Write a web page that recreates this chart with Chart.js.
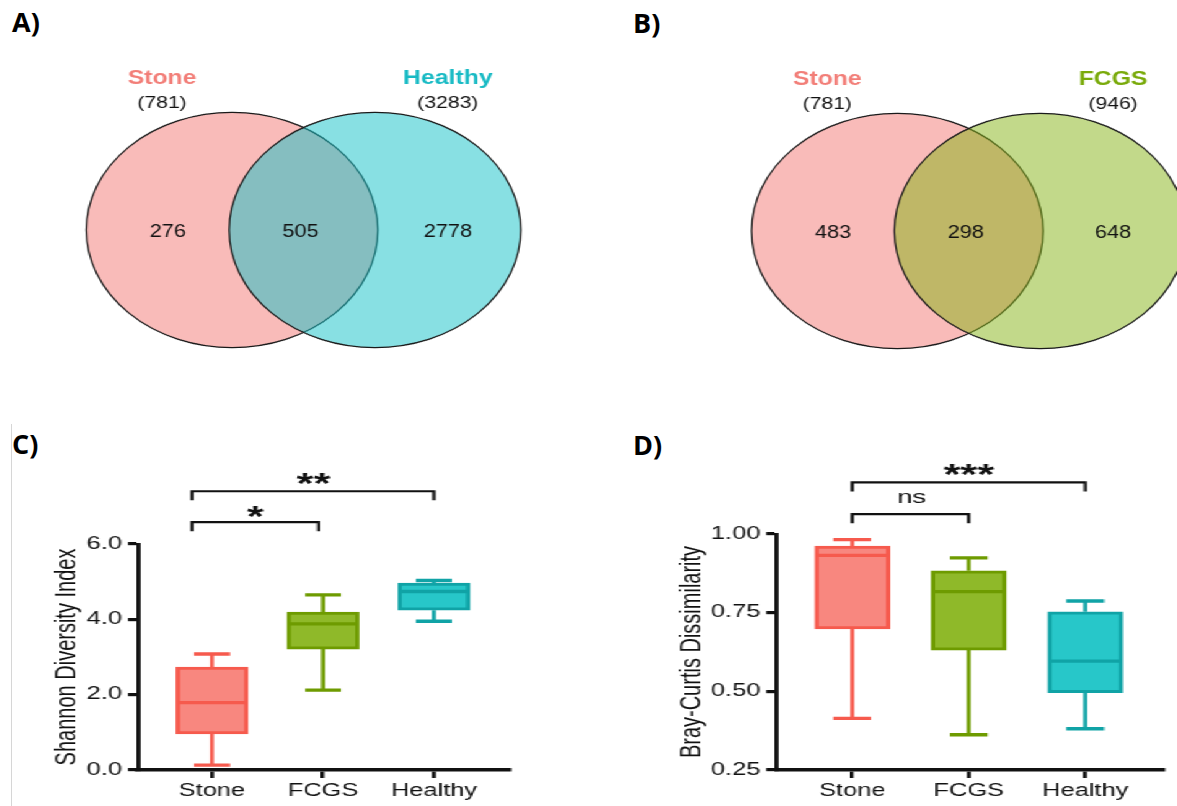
<!DOCTYPE html>
<html>
<head>
<meta charset="utf-8">
<script src="https://cdn.jsdelivr.net/npm/chart.js@4.4.1/dist/chart.umd.min.js"></script>
<style>
  html, body { margin: 0; padding: 0; background: #fff; }
  body { width: 1177px; height: 806px; position: relative; overflow: hidden; }
  .wrap { position: absolute; left: 0; top: 0; height: 806px; transform-origin: 0 0; }
  .wrap canvas { position: absolute; }
  .tag { position: absolute; font-family: "Open Sans", sans-serif; font-weight: 700; font-size: 27px; line-height: 1; color: #000; }
  .edge { position: absolute; left: 11px; top: 424px; width: 1px; height: 382px; background: #d6d6d6; }
</style>
</head>
<body>
<div class="edge"></div>
<div class="tag" style="left:12px;top:8px">A)</div>
<div class="tag" style="left:633px;top:9px">B)</div>
<div class="tag" style="left:12px;top:430px">C)</div>
<div class="tag" style="left:633px;top:431px">D)</div>

<!-- the original figure is stretched sideways, so each half is drawn narrow and widened -->
<div class="wrap" id="vennWrap">
  <canvas id="vennA"></canvas>
  <canvas id="vennB"></canvas>
</div>
<div class="wrap" id="boxWrap">
  <canvas id="shannon"></canvas>
  <canvas id="bray"></canvas>
</div>

<script>
// ---- data ----
const vennSetsA = ['Stone', 'Healthy'];
const vennTotalsA = [781, 3283];
const vennCountsA = [276, 505, 2778];   // only Stone, shared, only Healthy

const vennSetsB = ['Stone', 'FCGS'];
const vennTotalsB = [781, 946];
const vennCountsB = [483, 298, 648];    // only Stone, shared, only FCGS

const groups = ['Stone', 'FCGS', 'Healthy'];

const shannonMin = [0.13, 2.12, 3.95];
const shannonQ1 = [0.96, 3.21, 4.24];
const shannonMed = [1.79, 3.88, 4.74];
const shannonQ3 = [2.73, 4.19, 4.96];
const shannonMax = [3.08, 4.65, 5.03];
const shannonTicks = [0, 2, 4, 6];
const shannonSig = ['*', '**'];          // Stone vs FCGS, Stone vs Healthy

const brayMin = [0.414, 0.362, 0.381];
const brayQ1 = [0.698, 0.631, 0.496];
const brayMed = [0.932, 0.817, 0.596];
const brayQ3 = [0.962, 0.883, 0.753];
const brayMax = [0.982, 0.924, 0.787];
const brayTicks = [0.25, 0.5, 0.75, 1.0];
const braySig = ['ns', '***'];

// ---- styles ----
const S_VENN = 1.24;
const S_BOX = 1.45;
const groupFill = ['#F8877F', '#8FB929', '#27C7C9'];
const groupLine = ['#F65A4D', '#6E9B00', '#10A3A6'];
const setFill = { Stone: 'rgba(243,119,115,0.5)', Healthy: 'rgba(17,193,199,0.5)', FCGS: 'rgba(133,179,21,0.5)' };
const setText = { Stone: '#F27E78', Healthy: '#17BAC4', FCGS: '#79AA0A' };

Chart.defaults.font.family = '"Liberation Sans", Arial, sans-serif';
Chart.defaults.color = '#111';

document.getElementById('vennWrap').style.width = (1177 / S_VENN) + 'px';
document.getElementById('vennWrap').style.transform = 'scaleX(' + S_VENN + ')';
document.getElementById('boxWrap').style.width = (1177 / S_BOX) + 'px';
document.getElementById('boxWrap').style.transform = 'scaleX(' + S_BOX + ')';

// venn label spots, in circle radii from the middle of the pair
const HALF_GAP = 0.49;
const NAME_X = [-0.97, 0.99], NAME_Y = 1.285, TOTAL_Y = 1.08;
const COUNT_X = [-0.93, -0.02, 0.99], COUNT_Y = -0.02;

function makeVenn(id, sets, totals, counts, place) {
  const c = document.getElementById(id);
  const left = place.left / S_VENN;
  const W = Math.round(place.width / S_VENN), H = place.height;
  c.width = W; c.height = H;
  c.style.left = left + 'px'; c.style.top = place.top + 'px';
  const U = place.unit;       // pixels per axis unit, one unit = circle radius
  const cx = place.cx / S_VENN - left, cy = place.cy - place.top;

  const labels = {
    id: 'vennLabels',
    afterDatasetsDraw(chart) {
      const { ctx, scales: { x, y } } = chart;
      ctx.save();
      ctx.textAlign = 'center';
      ctx.textBaseline = 'middle';
      sets.forEach((s, i) => {
        ctx.font = 'bold 20px "Liberation Sans"';
        ctx.fillStyle = setText[s];
        ctx.fillText(s, x.getPixelForValue(NAME_X[i]), y.getPixelForValue(NAME_Y));
        ctx.font = '17px "Liberation Sans"';
        ctx.fillStyle = '#111';
        ctx.fillText('(' + totals[i] + ')', x.getPixelForValue(NAME_X[i]), y.getPixelForValue(TOTAL_Y));
      });
      ctx.font = '17.5px "Liberation Sans"';
      counts.forEach((n, i) => {
        ctx.fillText(String(n), x.getPixelForValue(COUNT_X[i]), y.getPixelForValue(COUNT_Y));
      });
      ctx.restore();
    }
  };

  new Chart(c, {
    type: 'bubble',
    data: {
      datasets: [{
        data: [{ x: -HALF_GAP, y: 0 }, { x: HALF_GAP, y: 0 }],
        backgroundColor: sets.map(s => setFill[s]),
        borderColor: '#1a1a1a',
        borderWidth: 1.3,
        radius: U
      }]
    },
    options: {
      responsive: false,
      animation: false,
      events: [],
      layout: { padding: 0, autoPadding: false },
      plugins: { legend: { display: false }, tooltip: { enabled: false } },
      scales: {
        x: { type: 'linear', display: false, min: -cx / U, max: (W - cx) / U },
        y: { type: 'linear', display: false, min: -(H - cy) / U, max: cy / U }
      }
    },
    plugins: [labels]
  });
}

function makeBox(id, st, cfg) {
  const S = S_BOX;
  const c = document.getElementById(id);
  const left = cfg.page.left / S;
  const W = Math.round(cfg.page.width / S), H = cfg.page.height;
  c.width = W; c.height = H;
  c.style.left = left + 'px'; c.style.top = cfg.page.top + 'px';

  const areaL = cfg.area.left / S - left;
  const areaR = cfg.area.right / S - left;
  const padL = cfg.titleX / S - left - 12;
  const padR = W - areaR;
  const padT = cfg.area.top - cfg.page.top;
  const xAxisH = cfg.page.top + H - cfg.area.bottom;
  const yAxisW = areaL - padL;
  const xMin = (cfg.area.left - cfg.tick0) / cfg.tickGap;
  const xMax = (cfg.area.right - cfg.tick0) / cfg.tickGap;
  const barW = cfg.barPx / S, capW = cfg.capPx / S;

  const parts = {
    id: 'boxParts',
    beforeDatasetsDraw(chart) {
      const { ctx, scales: { x, y } } = chart;
      ctx.save();
      groups.forEach((g, i) => {
        const px = x.getPixelForValue(i);
        ctx.strokeStyle = groupLine[i];
        ctx.lineWidth = 2.6;
        ctx.beginPath();
        ctx.moveTo(px, y.getPixelForValue(st.q3[i]));
        ctx.lineTo(px, y.getPixelForValue(st.max[i]));
        ctx.moveTo(px, y.getPixelForValue(st.q1[i]));
        ctx.lineTo(px, y.getPixelForValue(st.min[i]));
        ctx.stroke();
        ctx.lineWidth = 3.4;
        ctx.beginPath();
        [st.max[i], st.min[i]].forEach(v => {
          const py = y.getPixelForValue(v);
          ctx.moveTo(px - capW / 2, py);
          ctx.lineTo(px + capW / 2, py);
        });
        ctx.stroke();
      });
      ctx.restore();
    },
    afterDatasetsDraw(chart) {
      const { ctx, scales: { x, y } } = chart;
      ctx.save();
      ctx.lineWidth = 3.4;
      groups.forEach((g, i) => {
        const px = x.getPixelForValue(i);
        const py = y.getPixelForValue(st.med[i]);
        ctx.strokeStyle = groupLine[i];
        ctx.beginPath();
        ctx.moveTo(px - barW / 2 + 1, py);
        ctx.lineTo(px + barW / 2 - 1, py);
        ctx.stroke();
      });
      ctx.restore();
    },
    afterDraw(chart) {
      const { ctx, scales: { x, y } } = chart;
      ctx.save();
      ctx.strokeStyle = '#111';
      ctx.fillStyle = '#111';
      ctx.lineWidth = 2.2;
      ctx.textAlign = 'center';
      ctx.textBaseline = 'alphabetic';
      cfg.brackets.forEach((b, i) => {
        const x1 = x.getPixelForValue(b.from), x2 = x.getPixelForValue(b.to);
        const yb = y.getPixelForValue(b.y);
        ctx.beginPath();
        ctx.moveTo(x1, yb + 9);
        ctx.lineTo(x1, yb);
        ctx.lineTo(x2, yb);
        ctx.lineTo(x2, yb + 9);
        ctx.stroke();
        const label = st.sig[i];
        const star = label.indexOf('*') >= 0;
        const size = star ? 30 : 19;
        ctx.font = (star ? 'bold ' : '') + size + 'px "Liberation Sans"';
        const ty = y.getPixelForValue(b.textY) + (star ? 0.57 : 0.26) * size;
        ctx.fillText(label, x.getPixelForValue(b.textX), ty);
      });
      ctx.restore();
    }
  };

  new Chart(c, {
    type: 'bar',
    data: {
      datasets: [{
        data: groups.map((g, i) => ({ x: i, y: [st.q1[i], st.q3[i]] })),
        backgroundColor: groupFill,
        borderColor: groupLine,
        borderWidth: 3,
        borderSkipped: false,
        barThickness: barW
      }]
    },
    options: {
      responsive: false,
      animation: false,
      events: [],
      layout: { padding: { left: padL, right: padR, top: padT, bottom: 0 }, autoPadding: false },
      plugins: { legend: { display: false }, tooltip: { enabled: false } },
      scales: {
        x: {
          type: 'linear', min: xMin, max: xMax, offset: false,
          afterBuildTicks: s => { s.ticks = groups.map((g, i) => ({ value: i })); },
          afterFit: s => { s.height = xAxisH; },
          ticks: { callback: v => groups[v], font: { size: 17.5 }, color: '#111', padding: 3, maxRotation: 0, autoSkip: false },
          grid: { offset: false, drawOnChartArea: false, drawTicks: true, tickLength: 8, color: '#111', lineWidth: 2.6 },
          border: { color: '#111', width: 3.6 }
        },
        y: {
          type: 'linear', min: cfg.yMin, max: cfg.yMax,
          afterBuildTicks: s => { s.ticks = cfg.ticks.map(v => ({ value: v })); },
          afterFit: s => { s.width = yAxisW; },
          ticks: { callback: v => v.toFixed(cfg.dp), font: { size: 17.5 }, color: '#111', padding: 4 },
          grid: { drawOnChartArea: false, drawTicks: true, tickLength: 7, color: '#111', lineWidth: 3.2 },
          border: { color: '#111', width: 2.9 },
          title: { display: true, text: cfg.title, font: { size: 20 }, color: '#111', padding: 0 }
        }
      }
    },
    plugins: [parts]
  });
}

makeVenn('vennA', vennSetsA, vennTotalsA, vennCountsA,
  { left: 0, top: 0, width: 588, height: 400, cx: 303.5, cy: 230, unit: 117.6 });
makeVenn('vennB', vennSetsB, vennTotalsB, vennCountsB,
  { left: 600, top: 0, width: 577, height: 400, cx: 968.6, cy: 231, unit: 117.6 });

makeBox('shannon',
  { min: shannonMin, q1: shannonQ1, med: shannonMed, q3: shannonQ3, max: shannonMax, sig: shannonSig },
  {
    page: { left: 0, top: 420, width: 560, height: 386 },
    area: { left: 138, right: 509, top: 544, bottom: 770 },
    titleX: 67, tick0: 212, tickGap: 111, barPx: 72, capPx: 36,
    yMin: 0, yMax: 6, ticks: shannonTicks, dp: 1,
    title: 'Shannon Diversity Index',
    brackets: [
      { from: -0.18, to: 0.96, y: 6.58, textX: 0.39, textY: 6.94 },
      { from: -0.18, to: 2.0, y: 7.4, textX: 0.915, textY: 7.8 }
    ]
  });

makeBox('bray',
  { min: brayMin, q1: brayQ1, med: brayMed, q3: brayQ3, max: brayMax, sig: braySig },
  {
    page: { left: 600, top: 420, width: 577, height: 386 },
    area: { left: 776, right: 1163, top: 534, bottom: 770 },
    titleX: 692, tick0: 852, tickGap: 116.5, barPx: 75, capPx: 38,
    yMin: 0.25, yMax: 1.0, ticks: brayTicks, dp: 2,
    title: 'Bray-Curtis Dissimilarity',
    brackets: [
      { from: 0, to: 1, y: 1.063, textX: 0.51, textY: 1.114 },
      { from: 0, to: 2, y: 1.164, textX: 1.0, textY: 1.214 }
    ]
  });
</script>
</body>
</html>
